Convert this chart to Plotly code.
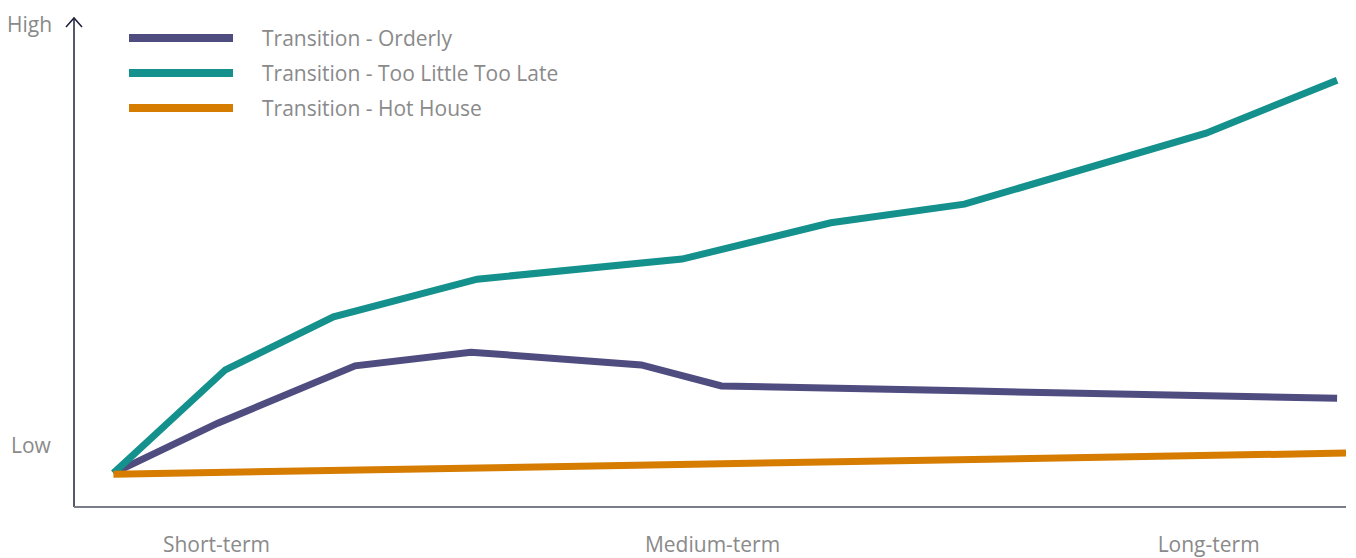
import plotly.graph_objects as go

# ---- data (time index 0-100, risk level 0-100) ----
orderly_x = [3.1, 11.3, 22.1, 31.2, 44.6, 50.9, 70.0, 99.3]
orderly_y = [6.9, 17.1, 28.8, 31.6, 29.0, 24.7, 23.7, 22.2]

late_x = [3.1, 11.9, 20.4, 31.7, 47.8, 59.5, 70.0, 89.0, 99.3]
late_y = [6.9, 28.0, 38.8, 46.5, 50.6, 58.0, 61.8, 76.3, 87.1]

hot_x = [3.1, 100.0]
hot_y = [6.7, 11.0]

series_names = ["Transition - Orderly", "Transition - Too Little Too Late", "Transition - Hot House"]
colors = ["#4f4c80", "#14918c", "#d67c00"]

x_tick_vals = [11.2, 50.2, 89.2]
x_tick_text = ["Short-term", "Medium-term", "Long-term"]
y_tick_vals = [12.7, 99.0]
y_tick_text = ["Low", "High"]

FONT = "Open Sans"
GREY = "#8a8a8a"

fig = go.Figure()
for xs, ys, name, c in [(orderly_x, orderly_y, series_names[0], colors[0]),
                        (late_x, late_y, series_names[1], colors[1]),
                        (hot_x, hot_y, series_names[2], colors[2])]:
    fig.add_trace(go.Scatter(x=xs, y=ys, mode="lines", name=name,
                             line=dict(color=c, width=7), showlegend=False,
                             hoverinfo="skip"))

shapes = []
annotations = []
# paper coords: x 0 -> 74px, 1 -> 1346px ; y 0 -> 507px, 1 -> 17px (window pixels)
def px_x(p):
    return (p - 74) / 1272
def px_y(p):
    return (507 - p) / 490

leg_rows = [38, 73, 108]
for row, name, c in zip(leg_rows, series_names, colors):
    shapes.append(dict(type="line", xref="paper", yref="paper",
                       x0=px_x(129), x1=px_x(233), y0=px_y(row), y1=px_y(row),
                       line=dict(color=c, width=8)))
    annotations.append(dict(xref="paper", yref="paper", x=px_x(260), y=px_y(row),
                            text=name, showarrow=False, xanchor="left", yanchor="middle",
                            font=dict(family=FONT, size=21, color=GREY)))

# y-axis level labels (Low / High)
annotations.append(dict(xref="paper", yref="y", x=px_x(53), y=y_tick_vals[0],
                        text=y_tick_text[0], showarrow=False, xanchor="right",
                        yanchor="middle", borderpad=0,
                        font=dict(family=FONT, size=21, color=GREY)))
annotations.append(dict(xref="paper", yref="paper", x=px_x(53), y=px_y(9),
                        text=y_tick_text[1], showarrow=False, xanchor="right",
                        yanchor="top", borderpad=0,
                        font=dict(family=FONT, size=21, color=GREY)))

# y axis with arrow
shapes.append(dict(type="line", xref="paper", yref="paper",
                   x0=0, x1=0, y0=0, y1=px_y(18),
                   line=dict(color="#1c1f3a", width=1.5)))
shapes.append(dict(type="path", xref="paper", yref="paper",
                   path=f"M {px_x(66)} {px_y(27)} L {px_x(74)} {px_y(18)} L {px_x(82)} {px_y(27)}",
                   line=dict(color="#1c1f3a", width=1.5)))
# x axis line
shapes.append(dict(type="line", xref="paper", yref="paper",
                   x0=0, x1=1, y0=0, y1=0,
                   line=dict(color="#7a7d8a", width=2)))

fig.update_layout(
    width=1348, height=550,
    margin=dict(l=66, r=10, t=9, b=51),
    paper_bgcolor="white", plot_bgcolor="white",
    shapes=shapes, annotations=annotations,
    xaxis=dict(range=[0, 100], showgrid=False, zeroline=False, showline=False,
               tickvals=x_tick_vals, ticktext=x_tick_text, ticks="",
               ticklabelstandoff=23, automargin=False,
               tickfont=dict(family=FONT, size=21, color=GREY)),
    yaxis=dict(range=[0, 100], showgrid=False, zeroline=False, showline=False,
               showticklabels=False, ticks="", automargin=False),
)

fig.write_html("out.html")
